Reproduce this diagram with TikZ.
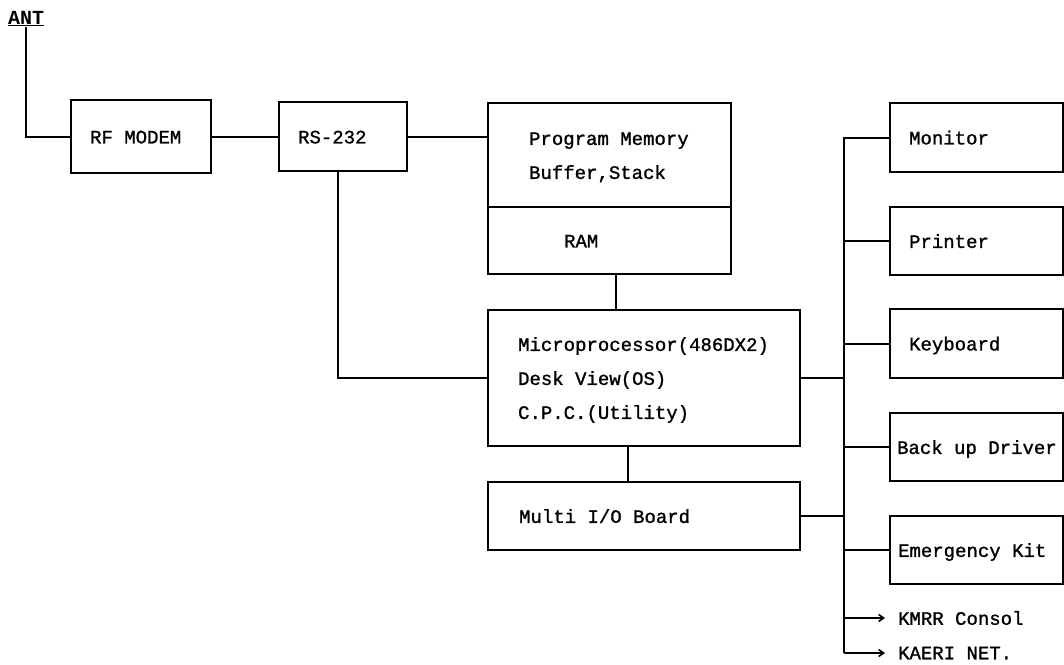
\documentclass[tikz,border=0pt]{standalone}
\usepackage{fontspec}
\setmonofont{Liberation Mono}[BoldFont={Liberation Mono},BoldFeatures={FakeBold=1.2}]
\newfontfamily\antfont{Liberation Mono Bold}
\newcommand\bxt[3]{\makebox[#1][l]{\hspace*{#2}\begin{tabular}{@{}l@{}}#3\end{tabular}}}
\usetikzlibrary{arrows.meta}
\begin{document}
\begin{tikzpicture}[x=1pt,y=-1pt,line width=2.2pt,
  box/.style={draw,line width=2.2pt,anchor=north west,inner sep=0pt,
    font=\ttfamily\bfseries\fontsize{19}{34}\selectfont},
  lbl/.style={anchor=west,inner sep=0pt,font=\ttfamily\bfseries\fontsize{19}{22}\selectfont},
  conn/.style={line width=2.2pt},
  arr/.style={line width=2.2pt,-{Straight Barb[length=5pt,width=7pt,line width=1.6pt]}}]
\useasboundingbox (0,0) rectangle (1064,664);

\node[anchor=base west,inner sep=0pt,font=\antfont\fontsize{20}{20}\selectfont] (ant) at (7,24) {\underline{ANT}};

\node[box,minimum height=73pt] (rf) at (70,99) {\bxt{140pt}{19pt}{RF MODEM}};
\node[box,minimum height=69pt] (rs) at (278,101) {\bxt{128pt}{19pt}{RS-232}};
\node[box,minimum height=104pt] (pm) at (487,102) {\bxt{243pt}{41pt}{Program Memory\\Buffer,Stack}};
\node[box,minimum height=67pt] (ram) at (487,206) {\bxt{243pt}{76pt}{RAM}};
\node[box,minimum height=136pt] (cpu) at (487,309) {\bxt{312pt}{30pt}{Microprocessor(486DX2)\\Desk View(OS)\\C.P.C.(Utility)}};
\node[box,minimum height=68pt] (mio) at (487,481) {\bxt{312pt}{31pt}{Multi I/O Board}};

\node[box,minimum height=69pt] (mon) at (889,102) {\bxt{173pt}{19pt}{Monitor}};
\node[box,minimum height=68pt] (prn) at (889,206) {\bxt{173pt}{19pt}{Printer}};
\node[box,minimum height=69pt] (kbd) at (889,308) {\bxt{173pt}{19pt}{Keyboard}};
\node[box,minimum height=68pt] (bak) at (889,412) {\bxt{173pt}{7pt}{Back up Driver}};
\node[box,minimum height=68pt] (emg) at (889,515) {\bxt{173pt}{8pt}{Emergency Kit}};

\node[lbl] (kmrr) at (897,618) {KMRR Consol};
\node[lbl] (kaeri) at (897,653) {KAERI NET.};

\coordinate (bus) at (844,0);

\draw[conn] (ant.south) |- (rf.west);
\draw[conn] (rf.east) -- (rs.west);
\draw[conn] (rs.east) -- (rs.east -| pm.west);
\draw[conn] ([xshift=-5pt]rs.south) |- (cpu.west);
\draw[conn] ([xshift=6pt]ram.south) -- ([xshift=6pt]ram.south |- cpu.north);
\draw[conn] ([xshift=-16pt]cpu.south) -- ([xshift=-16pt]cpu.south |- mio.north);
\draw[conn] (cpu.east) -- (bus |- cpu.east);
\draw[conn] (mio.east) -- (bus |- mio.east);

\draw[conn] (mon.west) -- (bus |- mon.west) -- (bus |- kaeri.west);
\draw[conn] (bus |- prn.west) -- (prn.west);
\draw[conn] (bus |- kbd.west) -- (kbd.west);
\draw[conn] (bus |- bak.west) -- (bak.west);
\draw[conn] (bus |- emg.west) -- (emg.west);
\draw[arr] (bus |- kmrr.west) -- ([xshift=-12pt]kmrr.west);
\draw[arr] (bus |- kaeri.west) -- ([xshift=-12pt]kaeri.west);
\end{tikzpicture}
\end{document}
